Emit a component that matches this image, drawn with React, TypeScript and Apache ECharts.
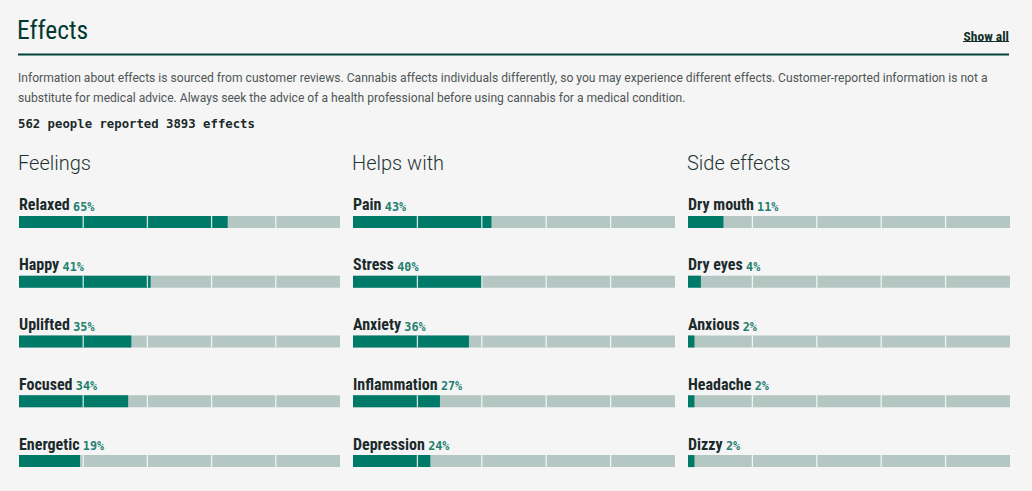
import React, { useEffect, useRef } from "react";
import * as echarts from "echarts";

const sectionTitles = ["Feelings", "Helps with", "Side effects"];
const feelingNames = ["Relaxed", "Happy", "Uplifted", "Focused", "Energetic"];
const feelingValues = [65, 41, 35, 34, 19];
const helpsNames = ["Pain", "Stress", "Anxiety", "Inflammation", "Depression"];
const helpsValues = [43, 40, 36, 27, 24];
const sideNames = ["Dry mouth", "Dry eyes", "Anxious", "Headache", "Dizzy"];
const sideValues = [11, 4, 2, 2, 2];
const segmentTicks = [20, 40, 60, 80];

const peopleCount = 562;
const effectsCount = 3893;

const DARK = "#007a68";
const LIGHT = "#b4c7c2";
const BG = "#f5f5f5";
const COND = "Roboto Condensed, sans-serif";

export default function App() {
  const ref = useRef<HTMLDivElement>(null);
  useEffect(() => {
    if (!ref.current) return;
    const chart = echarts.init(ref.current, null, { renderer: "svg" });
    const columns = [
      { names: feelingNames, values: feelingValues, left: 19, width: 321 },
      { names: helpsNames, values: helpsValues, left: 353, width: 322 },
      { names: sideNames, values: sideValues, left: 688, width: 322 },
    ];
    const grids = columns.map((c) => ({
      left: c.left,
      width: c.width,
      top: 192,
      height: 300,
      containLabel: false,
    }));
    const xAxes = columns.map((_, i) => ({
      type: "value",
      gridIndex: i,
      min: 0,
      max: 100,
      show: false,
    }));
    const yAxes = columns.map((c, i) => ({
      type: "category",
      gridIndex: i,
      data: c.names,
      inverse: true,
      show: false,
    }));
    const series: any[] = [];
    columns.forEach((c, i) => {
      series.push({
        type: "bar",
        xAxisIndex: i,
        yAxisIndex: i,
        barWidth: 12,
        data: c.values,
        itemStyle: { color: DARK },
        showBackground: true,
        backgroundStyle: { color: LIGHT },
        label: {
          show: true,
          position: [0, -12],
          align: "left",
          verticalAlign: "middle",
          formatter: (p: any) => `{n|${c.names[p.dataIndex]}} {v|${p.value}%}`,
          rich: {
            n: {
              fontFamily: COND,
              fontWeight: "bold",
              fontSize: 16,
              color: "#1b2a2a",
              lineHeight: 18,
              verticalAlign: "bottom",
            },
            v: {
              fontFamily: "DejaVu Sans Mono, monospace",
              fontWeight: "bold",
              fontSize: 11.8,
              color: "#23806f",
              lineHeight: 16,
              verticalAlign: "bottom",
            },
          },
        },
        z: 2,
      });
      const seps: number[][] = [];
      c.names.forEach((_, r) => {
        segmentTicks.forEach((t) => seps.push([t, r]));
      });
      series.push({
        type: "scatter",
        xAxisIndex: i,
        yAxisIndex: i,
        symbol: "rect",
        symbolSize: [1.3, 12],
        itemStyle: { color: "#ffffff" },
        data: seps,
        z: 3,
        silent: true,
      });
    });

    const paraStyle = {
      fontFamily: "Roboto, sans-serif",
      fontSize: 12.1,
      fill: "#4f5555",
      verticalAlign: "middle",
    };

    chart.setOption({
      animation: false,
      backgroundColor: BG,
      grid: grids,
      xAxis: xAxes,
      yAxis: yAxes,
      series,
      graphic: [
        {
          type: "text",
          x: 17,
          y: 30,
          style: {
            text: "Effects",
            fontFamily: COND,
            fontWeight: "normal",
            fontSize: 25.5,
            fill: "#02392f",
            verticalAlign: "middle",
          },
        },
        {
          type: "text",
          x: 1009,
          y: 36,
          style: {
            text: "Show all",
            fontFamily: COND,
            fontWeight: "bold",
            fontSize: 13.5,
            fill: "#12302a",
            align: "right",
            verticalAlign: "middle",
          },
        },
        {
          type: "line",
          shape: { x1: 963, y1: 41.5, x2: 1009, y2: 41.5 },
          style: { stroke: "#12302a", lineWidth: 1 },
        },
        {
          type: "rect",
          shape: { x: 18, y: 53.5, width: 991, height: 2 },
          style: { fill: "#004535" },
        },
        {
          type: "text",
          x: 18,
          y: 78,
          style: {
            ...paraStyle,
            text:
              "Information about effects is sourced from customer reviews. Cannabis affects individuals differently, so you may experience different effects. Customer-reported information is not a",
          },
        },
        {
          type: "text",
          x: 18,
          y: 98,
          style: {
            ...paraStyle,
            text:
              "substitute for medical advice. Always seek the advice of a health professional before using cannabis for a medical condition.",
          },
        },
        {
          type: "text",
          x: 18,
          y: 123.5,
          style: {
            text: `${peopleCount} people reported ${effectsCount} effects`,
            fontFamily: "DejaVu Sans Mono, monospace",
            fontWeight: "bold",
            fontSize: 12.3,
            fill: "#1b2a2a",
            verticalAlign: "middle",
          },
        },
        ...sectionTitles.map((t, i) => ({
          type: "text",
          x: [18, 352, 687][i],
          y: 163,
          style: {
            text: t,
            fontFamily: "Roboto, sans-serif",
            fontWeight: 300,
            fontSize: 20,
            fill: "#1f3535",
            verticalAlign: "middle",
          },
        })),
      ],
    });
    return () => chart.dispose();
  }, []);
  return (
    <div
      ref={ref}
      style={{ position: "fixed", left: 0, top: 0, width: 1032, height: 491 }}
    />
  );
}
